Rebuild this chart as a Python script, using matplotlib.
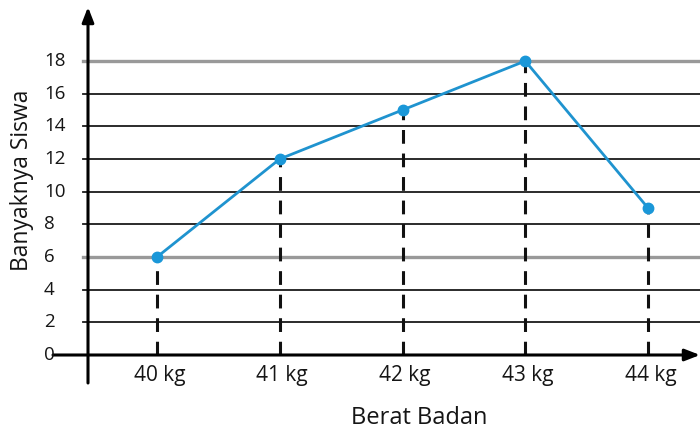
import matplotlib
matplotlib.use("Agg")
import matplotlib.pyplot as plt
import numpy as np

# data
weights = ["40 kg", "41 kg", "42 kg", "43 kg", "44 kg"]
students = [6, 12, 15, 18, 9]
y_ticks = [0, 2, 4, 6, 8, 10, 12, 14, 16, 18]
gray_rows = [6, 18]

plt.rcParams['font.family'] = ['Open Sans', 'DejaVu Sans']

fig = plt.figure(figsize=(7.0, 4.34), dpi=100)
# axes box: y axis at px 88, y=0 at px 355, y=18 at px 61
ax = fig.add_axes([88 / 700, (434 - 355) / 434, 612 / 700, (355 - 61) / 434])
ax.set_axis_off()

px_per_x = 122.75
xmin = -(157 - 88) / px_per_x
xmax = xmin + 612 / px_per_x
ax.set_xlim(xmin, xmax)
ax.set_ylim(0, 18)
px_per_y = (355 - 61) / 18.0


def px_x(p):
    return xmin + (p - 88) / px_per_x


def px_y(p):
    return (355 - p) / px_per_y


# horizontal grid rows
for v in y_ticks[1:]:
    if v in gray_rows:
        ax.plot([px_x(83), xmax], [v, v], color='#999999', lw=2.4,
                clip_on=False, zorder=1)
    else:
        ax.plot([px_x(83), xmax], [v, v], color='#1a1a1a', lw=1.3,
                clip_on=False, zorder=1)

# dashed drop lines
xs = np.arange(len(weights))
for x, v in zip(xs, students):
    ax.plot([x, x], [0, v], color='#111111', lw=2.2, ls=(0, (4.5, 3.2)),
            zorder=2)

# axes with arrows
ax.annotate('', xy=(px_x(700), 0), xytext=(px_x(53), 0),
            arrowprops=dict(arrowstyle='-|>,head_length=0.9,head_width=0.35',
                            color='black', lw=2.2, shrinkA=0, shrinkB=0),
            annotation_clip=False, zorder=3)
ax.annotate('', xy=(px_x(88), px_y(7)), xytext=(px_x(88), px_y(383)),
            arrowprops=dict(arrowstyle='-|>,head_length=0.9,head_width=0.35',
                            color='black', lw=2.2, shrinkA=0, shrinkB=0),
            annotation_clip=False, zorder=3)

# series
ax.plot(xs, students, color='#1f93cf', lw=2.0, marker='o', ms=7.5,
        markerfacecolor='#1a97d8', markeredgecolor='#1a97d8', zorder=4,
        clip_on=False)

# tick labels
for v in y_ticks:
    ax.text(px_x(44), v, str(v), ha='left', va='center', fontsize=13.5,
            color='#151515', clip_on=False)
for x, lab in zip(xs, weights):
    ax.text(x + 0.02, px_y(376), lab, ha='center', va='center', fontsize=15,
            color='#151515', clip_on=False)

# axis titles
ax.text(px_x(22), px_y(180), 'Banyaknya Siswa', rotation=90, ha='center',
        va='center', fontsize=16.5, color='#151515', clip_on=False)
ax.text(px_x(419), px_y(418), 'Berat Badan', ha='center', va='center',
        fontsize=17, color='#151515', clip_on=False)

fig.savefig('out.png', dpi=100)
